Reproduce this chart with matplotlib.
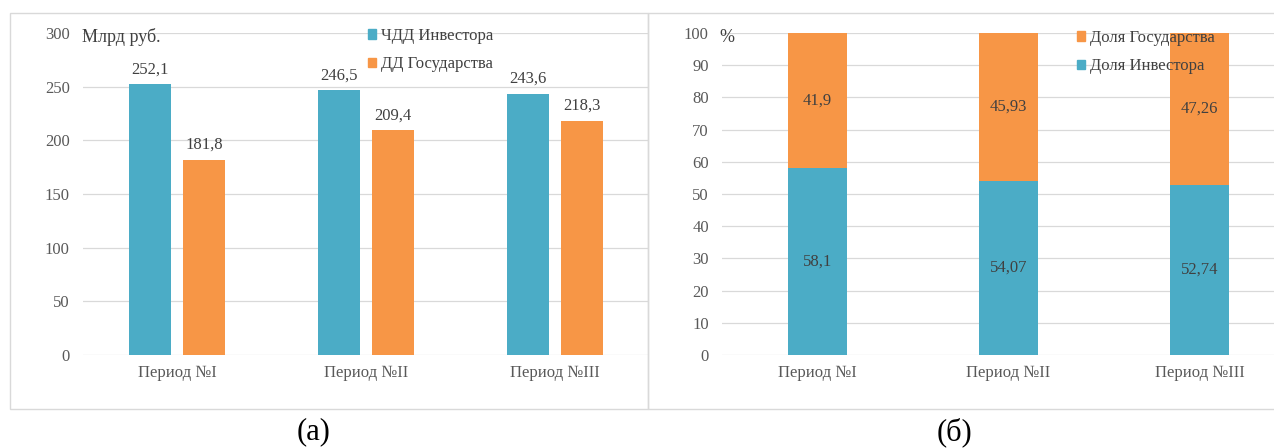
import numpy as np
import matplotlib
matplotlib.use("Agg")
import matplotlib.pyplot as plt
from matplotlib.patches import Patch, Rectangle

plt.rcParams["font.family"] = ["Liberation Serif", "DejaVu Serif"]

periods = ["Период №I", "Период №II", "Период №III"]

# (а) billion rubles
npv_investor = [252.1, 246.5, 243.6]
dd_state = [181.8, 209.4, 218.3]

# (б) shares, %
share_investor = [58.1, 54.07, 52.74]
share_state = [41.9, 45.93, 47.26]

BLUE = "#4BACC6"
ORANGE = "#F79646"
GRID = "#D9D9D9"
TICK = "#595959"
LABEL = "#404040"
W, H = 1274, 448


def fmt(v):
    return f"{v:g}".replace(".", ",")


def style_axes(ax, ymax, step):
    ax.set_ylim(0, ymax)
    ax.set_xlim(-0.5, 2.5)
    ax.set_yticks(np.arange(0, ymax + 1, step))
    ax.yaxis.grid(True, color=GRID, linewidth=0.9)
    ax.set_axisbelow(True)
    for s in ax.spines.values():
        s.set_visible(False)
    ax.tick_params(axis="y", length=0, pad=9.5, labelsize=12, labelcolor=TICK)
    ax.tick_params(axis="x", length=0, pad=7, labelsize=12, labelcolor=TICK)
    ax.set_xticks(range(len(periods)))
    ax.set_xticklabels(periods)


def px_axes(fig, x0, x1, y0, y1):
    return fig.add_axes([x0 / W, 1 - y1 / H, (x1 - x0) / W, (y1 - y0) / H])


def legend(ax, handles, x, y):
    ax.legend(handles=handles, loc="upper left", bbox_to_anchor=(x / W, 1 - y / H),
              bbox_transform=fig.transFigure, frameon=False, fontsize=12,
              handlelength=0.5, handleheight=0.5, handletextpad=0.3,
              labelspacing=0.75, borderpad=0, borderaxespad=0, labelcolor=LABEL)


fig = plt.figure(figsize=(W / 100, H / 100), dpi=100)

# panel frames
for x0, x1 in [(10, 648), (648, 1290)]:
    fig.patches.append(Rectangle((x0 / W, 1 - 409 / H), (x1 - x0) / W, (409 - 13.5) / H,
                                 transform=fig.transFigure, fill=False,
                                 edgecolor=GRID, linewidth=1.0))

# (а) grouped bars
ax1 = px_axes(fig, 83, 649, 33, 355)
x = np.arange(len(periods))
bw, off = 0.222, 0.143
b1 = ax1.bar(x - off, npv_investor, bw, color=BLUE)
b2 = ax1.bar(x + off, dd_state, bw, color=ORANGE)
style_axes(ax1, 300, 50)
for bars, vals in [(b1, npv_investor), (b2, dd_state)]:
    for r, v in zip(bars, vals):
        ax1.annotate(fmt(v), (r.get_x() + r.get_width() / 2, v), xytext=(0, 5),
                     textcoords="offset points", ha="center", va="bottom",
                     fontsize=12, color=LABEL)
fig.text(82 / W, 1 - 37 / H, "Млрд руб.", fontsize=13, color=LABEL, va="center")
legend(ax1, [Patch(color=BLUE, label="ЧДД Инвестора"),
             Patch(color=ORANGE, label="ДД Государства")], 368, 28)

# (б) stacked shares
ax2 = px_axes(fig, 722, 1295, 33, 355)
sw = 0.31
s1 = ax2.bar(x, share_investor, sw, color=BLUE)
s2 = ax2.bar(x, share_state, sw, bottom=share_investor, color=ORANGE)
style_axes(ax2, 100, 10)
for i in range(len(periods)):
    ax2.text(x[i], share_investor[i] / 2, fmt(share_investor[i]), ha="center",
             va="center", fontsize=12, color=LABEL)
    ax2.text(x[i], share_investor[i] + share_state[i] / 2, fmt(share_state[i]),
             ha="center", va="center", fontsize=12, color=LABEL)
fig.text(719 / W, 1 - 37 / H, "%", fontsize=13, color=LABEL, va="center")
legend(ax2, [Patch(color=ORANGE, label="Доля Государства"),
             Patch(color=BLUE, label="Доля Инвестора")], 1077, 30)

fig.text(314 / W, 1 - 432 / H, "(а)", fontsize=22, ha="center", va="center")
fig.text(955 / W, 1 - 432 / H, "(б)", fontsize=22, ha="center", va="center")

fig.savefig("out.png", dpi=100)
